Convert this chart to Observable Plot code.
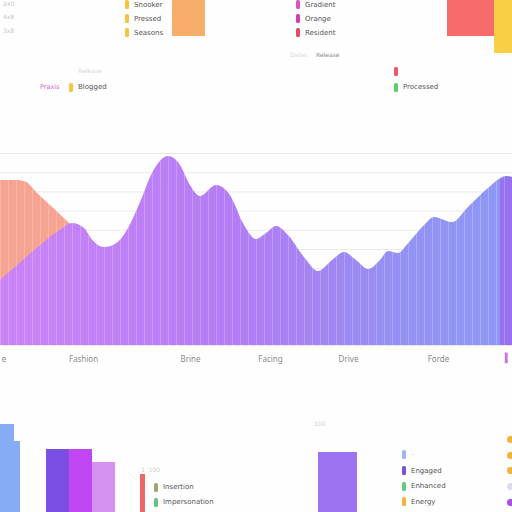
<!DOCTYPE html>
<html><head><meta charset="utf-8">
<script src="https://cdn.jsdelivr.net/npm/d3@7"></script>
<script src="https://cdn.jsdelivr.net/npm/@observablehq/plot@0.6"></script>
<style>
html,body{margin:0;padding:0;background:#fff;}
#root{position:relative;width:512px;height:512px;overflow:hidden;background:#fefefe;font-family:"DejaVu Sans",sans-serif;}
.abs{position:absolute;}
.row{display:flex;align-items:center;white-space:nowrap;}
.sw{display:inline-block;width:4px;height:9px;border-radius:1.5px;}
.lb{margin-left:5px;font-size:7px;color:#555;}
</style></head>
<body><div id="root"></div>
<script>
// ---- main area chart data ----
const purpleT = [0,5,10,15,18,21,23,26,29,32,35,38,42,45,47.5,50,54,57.5,61,64,66.5,69,72,76,79.5,83,86,89,92,95,97,99.5,102,106,108.5,113,117,122,126.5,128];
const purpleV = [34,43,52,60,63.5,61,55,51,53,61,74.5,89.6,98.4,93.8,83.3,77.6,83.3,78,62.5,55.2,58.3,62,57.3,45.8,38.5,44.3,48.4,44.3,39.6,44.3,49,47.9,53,62.5,66.7,64,71.9,81.8,88,87.5];
const salmonT = [0,4,6.5,9,12.5,16,18,22,26];
const salmonV = [86,86,85,79.7,72.9,66,62,50,40];
const edgeT = [125,126.5,128];
const edgeV = [86,88,87.5];
const xTickPos = [0.9,20.75,47.5,67.5,87,109.5];
const xTickLabels = ["e","Fashion","Brine","Facing","Drive","Forde"];

// ---- fragment bars ----
const topBarValues = {orange:[36], red:[36], yellow:[53]};
const blueBarValues = [88];
const blueStepValues = [71];
const trioValues = [63,63,50];
const redThinValues = [38];
const purpleSingleValues = [60];

// ---- legends ----
const legendTL = ["Snooker","Pressed","Seasons"];
const legendTP = ["Gradient","Orange","Resident"];
const legendBL = ["Insertion","Impersonation"];
const legendBR = ["··","Engaged","Enhanced","Energy"];

const root = document.getElementById("root");
function place(el, left, top){ const d=document.createElement("div"); d.className="abs"; d.style.left=left+"px"; d.style.top=top+"px"; d.appendChild(el); root.appendChild(d); return d; }

// main chart
const labelMap = new Map(xTickPos.map((p,i)=>[p,xTickLabels[i]]));
const purpleData = purpleT.map((t,i)=>({t, v:purpleV[i]}));
const salmonData = salmonT.map((t,i)=>({t, v:salmonV[i]}));
const edgeData = edgeT.map((t,i)=>({t, v:edgeV[i]}));
const main = Plot.plot({
  width:512, height:240, marginTop:23, marginBottom:25, marginLeft:0, marginRight:0,
  x:{domain:[0,128], label:null}, y:{domain:[0,100], axis:null},
  style:{background:"transparent", overflow:"visible"},
  marks:[
    Plot.gridY({ticks:10, stroke:"#e8e8ef", strokeOpacity:1}),
    Plot.areaY(salmonData, {x:"t", y:"v", fill:"#f6a392", curve:"monotone-x"}),
    Plot.areaY(purpleData, {x:"t", y:"v", fill:"url(#pg)", curve:"monotone-x"}),
    Plot.areaY(edgeData, {x:"t", y:"v", fill:"#9670ef", curve:"linear"}),
    Plot.gridX({ticks:56, stroke:"#fff", strokeOpacity:0.22}),
    Plot.axisX(xTickPos, {tickFormat:d=>labelMap.get(d), tickSize:0, tickPadding:11, fontSize:8, fill:"#8a8a8a", label:null}),
    Plot.text(["▍"], {text:d=>d, frameAnchor:"bottom-right", dx:-1, dy:15, fill:"#d56fd8", fontSize:9})
  ]
});
const ns="http://www.w3.org/2000/svg";
const defs=document.createElementNS(ns,"defs");
const lg=document.createElementNS(ns,"linearGradient");
lg.setAttribute("id","pg"); lg.setAttribute("gradientUnits","userSpaceOnUse");
lg.setAttribute("x1","0"); lg.setAttribute("x2","512"); lg.setAttribute("y1","0"); lg.setAttribute("y2","0");
[[0,"#cb84f7"],[0.45,"#b47cf5"],[0.62,"#a384f3"],[0.76,"#9590f4"],[1,"#8e98f4"]].forEach(([o,c])=>{
  const s=document.createElementNS(ns,"stop"); s.setAttribute("offset",o); s.setAttribute("stop-color",c); lg.appendChild(s);
});
defs.appendChild(lg); main.insertBefore(defs, main.firstChild);
place(main, 0, 130);

// bar fragments
function bars(left, top, width, height, vals, colors, hang){
  const cats = vals.map((_,i)=>"k"+i);
  const p = Plot.plot({width, height, margin:0,
    x:{domain:cats, padding:0, axis:null}, y:{domain:[0,height], axis:null, reverse:!!hang},
    style:{background:"transparent"},
    marks:[Plot.barY(cats.map((c,i)=>({c, v:vals[i], col:colors[i]})), {x:"c", y:"v", fill:"col"})]});
  place(p, left, top);
}
bars(172, 0, 33, 60, topBarValues.orange, ["#f7ae6b"], true);
bars(447, 0, 47, 60, topBarValues.red, ["#f86b6b"], true);
bars(494, 0, 18, 60, topBarValues.yellow, ["#f8cf45"], true);
bars(0, 412, 14, 100, blueBarValues, ["#86acf6"]);
bars(14, 412, 6, 100, blueStepValues, ["#86acf6"]);
bars(45, 412, 70, 100, trioValues, ["#7c4fe4","#c247f4","#d592f1"]);
bars(140, 412, 5, 100, redThinValues, ["#ef6666"]);
bars(318, 412, 39, 100, purpleSingleValues, ["#9d73f2"]);

// legends
function legend(left, top, rowH, labels, colors, textColors){
  const box=document.createElement("div");
  labels.forEach((l,i)=>{
    const r=document.createElement("div"); r.className="row"; r.style.height=rowH+"px";
    if(colors[i]){ const s=document.createElement("span"); s.className="sw"; s.style.background=colors[i]; r.appendChild(s); }
    const t=document.createElement("span"); t.className="lb"; t.textContent=l;
    if(textColors && textColors[i]) t.style.color=textColors[i];
    r.appendChild(t); box.appendChild(r);
  });
  place(box, left, top);
}
function text(left, top, str, color, size){
  const s=document.createElement("div"); s.style.fontSize=(size||7)+"px"; s.style.color=color; s.style.whiteSpace="nowrap"; s.textContent=str; place(s,left,top);
}
legend(125, -2.5, 14, legendTL, ["#f5c242","#f5c242","#f5c242"]);
legend(296, -2.5, 14, legendTP, ["#d957b8","#d83fae","#e24b63"]);
text(3, 0, "240", "#c8c8c8", 6); text(3, 13, "4x8", "#c8c8c8", 6); text(3, 27, "3x8", "#c8c8c8", 6);
text(290, 51, "Dates", "#d4d4dc", 6); text(316, 51, "Release", "#888", 6);
text(78, 67, "Release", "#d4d4dc", 6);
text(40, 83, "Praxis", "#d45fd0", 6.5);
legend(69, 79.5, 15, ["Blogged"], ["#f6c445"]);
legend(394, 63.5, 15, [""], ["#ee5566"]);
legend(394, 79.5, 15, ["Processed"], ["#5fcf6a"]);
text(141, 466, "1  ·100", "#cfcfcf", 6);
legend(154, 479.5, 15, legendBL, ["#a2a66e","#63c47f"]);
text(314, 420, "100", "#cfcfcf", 6);
legend(402, 447, 15.7, legendBR, ["#a4b4f2","#7b4ee0","#63cb7e","#f4b23e"], ["#ccc"]);
// right edge dots
[["#f2b33e",439],["#f2b33e",455],["#f2b33e",470],["#dcdcec",486],["#a552e6",502]].forEach(([c,y])=>{
  const d=document.createElement("div"); d.style.cssText=`width:8px;height:7px;border-radius:4px;background:${c}`; place(d,507,y-3.5);
});
</script></body></html>
